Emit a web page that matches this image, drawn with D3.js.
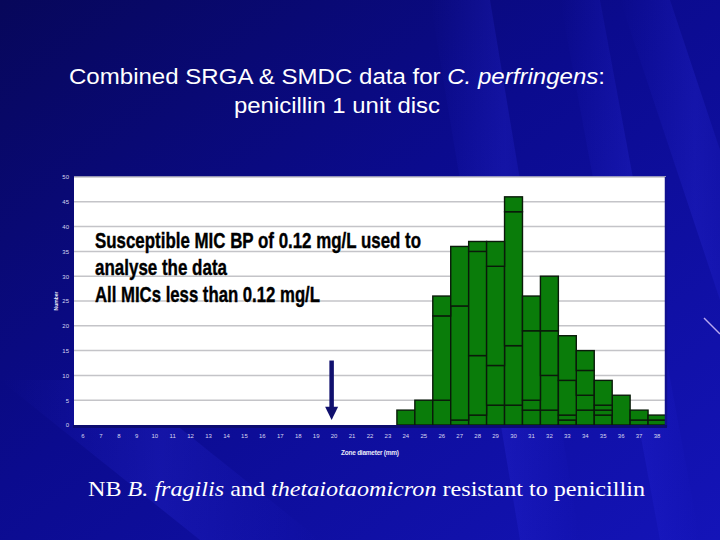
<!DOCTYPE html>
<html><head><meta charset="utf-8">
<script src="https://cdn.jsdelivr.net/npm/d3@7"></script>
<style>html,body{margin:0;padding:0;background:#0a0a80;}svg{display:block;}</style>
</head><body>
<svg id="c" width="720" height="540"></svg>
<script>
const categories = [6,7,8,9,10,11,12,13,14,15,16,17,18,19,20,21,22,23,24,25,26,27,28,29,30,31,32,33,34,35,36,37,38];
const series1 = [0,0,0,0,0,0,0,0,0,0,0,0,0,0,0,0,0,0,3,5,5,1,2,4,4,3,3,1,3,2,6,1,1];
const series2 = [0,0,0,0,0,0,0,0,0,0,0,0,0,0,0,0,0,0,0,0,17,23,12,8,12,2,7,1,3,1,0,2,1];
const series3 = [0,0,0,0,0,0,0,0,0,0,0,0,0,0,0,0,0,0,0,0,4,12,21,20,27,14,9,7,5,1,0,0,0];
const series4 = [0,0,0,0,0,0,0,0,0,0,0,0,0,0,0,0,0,0,0,0,0,0,2,5,3,7,11,9,4,5,0,0,0];
const yTicks = [0,5,10,15,20,25,30,35,40,45,50];
const titleLines = ["Combined SRGA & SMDC data for ", "penicillin 1 unit disc"];
const noteLines = ["Susceptible MIC BP of 0.12 mg/L used to", "analyse the data", "All MICs less than 0.12 mg/L"];
const arrowCategory = 20;

const svg = d3.select("#c");
const defs = svg.append("defs");
const bg = defs.append("linearGradient").attr("id","bg").attr("x1","0").attr("y1","0").attr("x2","1").attr("y2","1");
bg.append("stop").attr("offset","0").attr("stop-color","#07075a");
bg.append("stop").attr("offset","0.45").attr("stop-color","#0b0b8e");
bg.append("stop").attr("offset","1").attr("stop-color","#1414b8");
svg.append("rect").attr("width",720).attr("height",540).attr("fill","url(#bg)");
const st = defs.append("linearGradient").attr("id","streak").attr("x1","0").attr("y1","0").attr("x2","1").attr("y2","0");
st.append("stop").attr("offset","0").attr("stop-color","#3030ff").attr("stop-opacity",0);
st.append("stop").attr("offset","0.5").attr("stop-color","#3a3aff").attr("stop-opacity",0.18);
st.append("stop").attr("offset","1").attr("stop-color","#3030ff").attr("stop-opacity",0);
[[430,0,520,540,60],[560,0,660,540,40],[620,0,720,300,50],[0,380,200,540,120]].forEach(s=>{
  svg.append("path").attr("d",`M${s[0]},${s[1]} L${s[0]+s[4]},${s[1]} L${s[2]+s[4]},${s[3]} L${s[2]},${s[3]} Z`).attr("fill","url(#streak)");
});
svg.append("line").attr("x1",704).attr("y1",318).attr("x2",720).attr("y2",334).attr("stroke","#b8a8f0").attr("stroke-width",1.5);

// Title
const t1 = svg.append("text").attr("x",69).attr("y",84).attr("fill","#fff")
  .attr("font-family","Liberation Sans, Arial, sans-serif").attr("font-size",22)
  .attr("textLength",536).attr("lengthAdjust","spacingAndGlyphs");
t1.append("tspan").text(titleLines[0]);
t1.append("tspan").attr("font-style","italic").text("C. perfringens");
t1.append("tspan").text(":");
svg.append("text").attr("x",234).attr("y",113).attr("fill","#fff")
  .attr("font-family","Liberation Sans, Arial, sans-serif").attr("font-size",22)
  .attr("textLength",206).attr("lengthAdjust","spacingAndGlyphs").text(titleLines[1]);

// Chart
const L=74, R=666, T=177, B=425;
const x = d3.scaleBand().domain(categories).range([L,R]).padding(0);
const y = d3.scaleLinear().domain([0,50]).range([B,T]);

svg.append("rect").attr("x",L).attr("y",T).attr("width",R-L).attr("height",B-T).attr("fill","#fff");
svg.append("g").selectAll("line").data(yTicks.filter(d=>d>0)).join("line")
  .attr("x1",L).attr("x2",R).attr("y1",d=>y(d)).attr("y2",d=>y(d))
  .attr("stroke","#c4c4c8").attr("stroke-width",1.5);

const table = categories.map((c,i)=>({cat:c,s1:series1[i],s2:series2[i],s3:series3[i],s4:series4[i]}));
const stack = d3.stack().keys(["s1","s2","s3","s4"])(table);
const segs = [];
stack.forEach(layer=>layer.forEach(d=>{ if(d[1]-d[0]>0) segs.push({cat:d.data.cat,y0:d[0],y1:d[1]}); }));
svg.append("g").selectAll("rect").data(segs).join("rect")
  .attr("x",d=>x(d.cat)).attr("width",x.bandwidth())
  .attr("y",d=>y(d.y1)).attr("height",d=>y(d.y0)-y(d.y1))
  .attr("fill","#0a7c0a").attr("stroke","#0a1a0a").attr("stroke-width",1.4);

svg.append("line").attr("x1",R).attr("x2",R).attr("y1",T).attr("y2",B+2).attr("stroke","#101090").attr("stroke-width",2.5);
svg.append("line").attr("x1",L-1).attr("x2",R+1).attr("y1",B+1.5).attr("y2",B+1.5).attr("stroke","#0c0c70").attr("stroke-width",3);

// y axis labels
const yAxis = d3.axisLeft(y).tickValues(yTicks).tickSize(0).tickPadding(4);
const gy = svg.append("g").attr("transform",`translate(${L-1},0)`).call(yAxis);
gy.select(".domain").remove();
gy.selectAll("text").attr("fill","#d8d8f0").attr("font-size",6).attr("font-family","Liberation Sans, Arial, sans-serif");
// x axis labels
const xAxis = d3.axisBottom(x).tickSize(0).tickPadding(9);
const gx = svg.append("g").attr("transform",`translate(0,${B})`).call(xAxis);
gx.select(".domain").remove();
gx.selectAll("text").attr("fill","#d8d8f0").attr("font-size",6).attr("font-family","Liberation Sans, Arial, sans-serif");

svg.append("text").attr("x",370).attr("y",455).attr("text-anchor","middle").attr("fill","#e8e8f8")
  .attr("font-family","Liberation Sans, Arial, sans-serif").attr("font-weight","bold").attr("font-size",6.5)
  .attr("textLength",58).text("Zone diameter (mm)");
svg.append("text").attr("transform","translate(58,301) rotate(-90)").attr("text-anchor","middle").attr("fill","#e8e8f8")
  .attr("font-family","Liberation Sans, Arial, sans-serif").attr("font-weight","bold").attr("font-size",5).text("Number");

// annotation
const noteW = [326,132,225];
noteLines.forEach((s,i)=>{
  svg.append("text").attr("x",95).attr("y",248+i*27).attr("fill","#000")
    .attr("font-family","Liberation Sans Narrow, Arial Narrow, Liberation Sans, sans-serif")
    .attr("font-weight","bold").attr("font-size",22).attr("stroke","#000").attr("stroke-width",0.4)
    .attr("textLength",noteW[i]).attr("lengthAdjust","spacingAndGlyphs").text(s);
});

// arrow
const ax = x(arrowCategory) + x.bandwidth()/2 - 2.5;
svg.append("line").attr("x1",ax).attr("x2",ax).attr("y1",y(13)).attr("y2",y(3.5)).attr("stroke","#10106e").attr("stroke-width",4.5);
svg.append("path").attr("d",`M${ax-6.5},${y(3.7)} L${ax+6.5},${y(3.7)} L${ax},${y(1)} Z`).attr("fill","#10106e");

// bottom note
const bn = svg.append("text").attr("x",88).attr("y",496).attr("fill","#fff")
  .attr("font-family","Liberation Serif, Times New Roman, serif").attr("font-size",22)
  .attr("textLength",557).attr("lengthAdjust","spacingAndGlyphs");
bn.append("tspan").text("NB ");
bn.append("tspan").attr("font-style","italic").text("B. fragilis");
bn.append("tspan").text(" and ");
bn.append("tspan").attr("font-style","italic").text("thetaiotaomicron");
bn.append("tspan").text(" resistant to penicillin");
</script>
</body></html>
